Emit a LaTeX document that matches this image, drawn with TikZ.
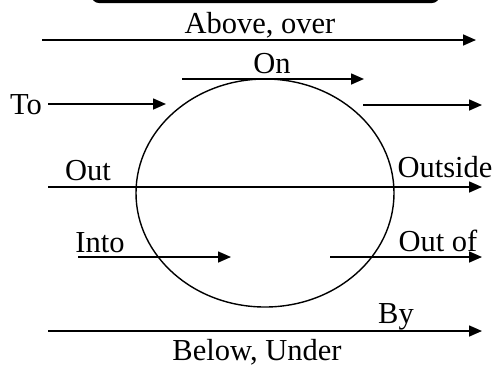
\documentclass[tikz,border=0pt]{standalone}
\usepackage{fontspec}
\setmainfont{Liberation Serif}
\usetikzlibrary{arrows.meta,shapes.geometric}
\begin{document}
\begin{tikzpicture}[x=1bp,y=-1bp,
  arr/.style={line width=1.6bp,-{Triangle[length=13bp,width=11bp]}},
  lbl/.style={anchor=base,inner sep=0pt,font=\fontsize{30.5bp}{32bp}\selectfont},
  blob/.style={draw,ellipse,line width=1.4bp,minimum width=258bp,minimum height=228bp,inner sep=0pt}]
\clip (0,0) rectangle (494,367);
\fill[white] (0,0) rectangle (494,367);
% top bar (bottom of a rounded box)
\draw[line width=3bp,rounded corners=6bp] (93,-30) rectangle (438,1.5);
% circle
\node[blob] (c) at (265,193) {};
% coordinates
\coordinate (a1) at (42,40);  \coordinate (a2) at (476,40);
\coordinate (o1) at (182,79); \coordinate (o2) at (364,79);
\coordinate (t1) at (48,104); \coordinate (t2) at (166,104);
\coordinate (r1) at (363,105); \coordinate (r2) at (482,105);
\coordinate (u1) at (48,187); \coordinate (u2) at (482,187);
\coordinate (i1) at (78,257); \coordinate (i2) at (231,257);
\coordinate (f1) at (330,257); \coordinate (f2) at (482,257);
\coordinate (b1) at (48,331); \coordinate (b2) at (482,331);
% arrows
\draw[arr] (a1) -- (a2);
\draw[arr] (o1) -- (o2);
\draw[arr] (t1) -- (t2);
\draw[arr] (r1) -- (r2);
\draw[arr] (u1) -- (u2);
\draw[arr] (i1) -- (i2);
\draw[arr] (f1) -- (f2);
\draw[arr] (b1) -- (b2);
% labels
\node[lbl] (labove) at (260,33) {Above, over};
\node[lbl] (lon) at (272,73) {On};
\node[lbl] (lto) at (26,114) {To};
\node[lbl] (lout) at (88,180) {Out};
\node[lbl] (loutside) at (445,177) {Outside};
\node[lbl] (linto) at (100,252) {Into};
\node[lbl] (loutof) at (438,251) {Out of};
\node[lbl] (lby) at (396,323) {By};
\node[lbl] (lbelow) at (257,360) {Below, Under};
\end{tikzpicture}
\end{document}
